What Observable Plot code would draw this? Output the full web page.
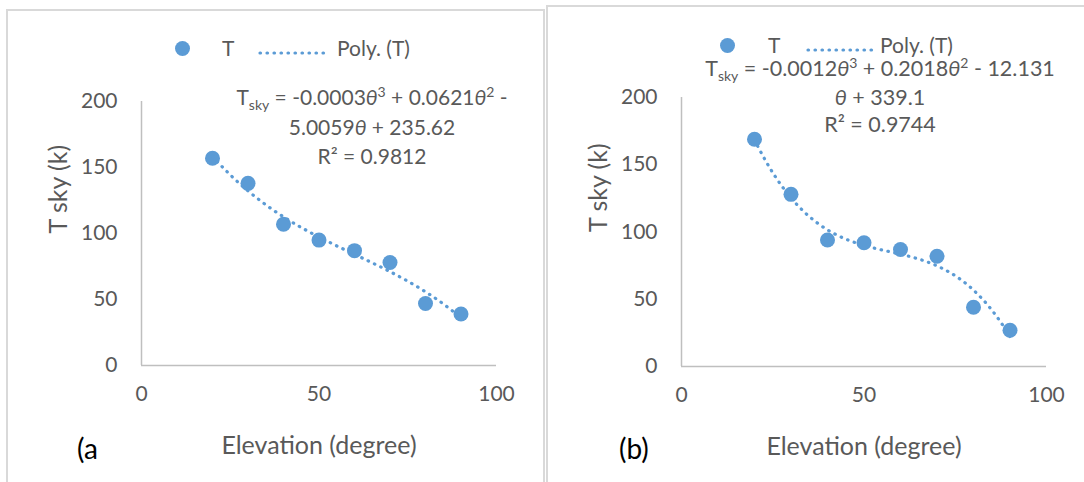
<!DOCTYPE html>
<html><head><meta charset="utf-8">
<script src="https://cdn.jsdelivr.net/npm/d3@7"></script>
<script src="https://cdn.jsdelivr.net/npm/@observablehq/plot@0.6"></script>
<style>
html,body{margin:0;padding:0;background:#fff;}
#root{position:relative;width:1084px;height:482px;overflow:hidden;font-family:Lato,sans-serif;color:#595959;}
.panel{position:absolute;border:2px solid #d9d9d9;box-sizing:border-box;}
.plot{position:absolute;top:0;}
.txt{position:absolute;font-size:21px;line-height:22px;height:22px;white-space:nowrap;}
.c{transform:translateX(-50%);}
.txt sub{font-size:14px;vertical-align:-5px;line-height:0;}
.txt sup{font-size:14px;vertical-align:8px;line-height:0;}
.tag{position:absolute;font-size:28px;line-height:28px;color:#000;}
.ldot{position:absolute;width:15px;height:15px;border-radius:50%;background:#5B9BD5;}
</style></head><body><div id="root"></div>
<script>
// ---- data ----
const elevation = [20, 30, 40, 50, 60, 70, 80, 90];
const tskyA = [157, 138, 107, 95, 87, 78, 47, 39];
const tskyB = [169, 128, 94, 92, 87, 82, 44, 27];
const xTicks = [0, 50, 100];
const yTicks = [0, 50, 100, 150, 200];
const xTitle = "Elevation (degree)";
const yTitle = "T sky (k)";
const seriesName = "T";
const trendName = "Poly. (T)";
const eqA = ["T<sub>sky</sub> = -0.0003<i>θ</i><sup>3</sup> + 0.0621<i>θ</i><sup>2</sup> -", "5.0059<i>θ</i> + 235.62", "R² = 0.9812"];
const eqB = ["T<sub>sky</sub> = -0.0012<i>θ</i><sup>3</sup> + 0.2018<i>θ</i><sup>2</sup> - 12.131", "<i>θ</i> + 339.1", "R² = 0.9744"];
const tagA = "(a";
const tagB = "(b)";
const blue = "#5B9BD5";

// least-squares cubic trendline (as Excel's polynomial trendline)
function cubicFit(xs, ys) {
  const m = d3.mean(xs), s = 35, n = 4;
  const A = Array.from({length: n}, () => Array(n + 1).fill(0));
  xs.forEach((x, i) => {
    const t = (x - m) / s, p = [1, t, t * t, t * t * t];
    for (let r = 0; r < n; r++) {
      for (let c = 0; c < n; c++) A[r][c] += p[r] * p[c];
      A[r][n] += p[r] * ys[i];
    }
  });
  for (let i = 0; i < n; i++) {
    let piv = i;
    for (let r = i + 1; r < n; r++) if (Math.abs(A[r][i]) > Math.abs(A[piv][i])) piv = r;
    [A[i], A[piv]] = [A[piv], A[i]];
    for (let r = 0; r < n; r++) {
      if (r === i) continue;
      const f = A[r][i] / A[i][i];
      for (let c = i; c <= n; c++) A[r][c] -= f * A[i][c];
    }
  }
  const b = A.map((row, i) => row[n] / row[i]);
  return x => { const t = (x - m) / s; return b[0] + b[1] * t + b[2] * t * t + b[3] * t * t * t; };
}

const root = document.getElementById("root");
function add(html, cls, style) {
  const d = document.createElement("div");
  d.className = cls; d.innerHTML = html; Object.assign(d.style, style);
  root.appendChild(d); return d;
}

function panel(values, o) {
  add("", "panel", {left: o.bx + "px", top: o.by + "px", width: o.bw + "px", height: "520px"});
  const pts = elevation.map((x, i) => ({x, y: values[i]}));
  const f = cubicFit(elevation, values);
  const trend = d3.range(elevation[0], elevation[elevation.length - 1] + 0.001, 0.5).map(x => ({x, y: f(x)}));
  const svg = Plot.plot({
    width: o.w, height: 482,
    marginLeft: o.ml, marginRight: o.mr, marginTop: o.mt, marginBottom: o.mb,
    style: {fontFamily: "Lato, sans-serif", fontSize: "21px", color: "#595959", background: "transparent", overflow: "visible"},
    x: {domain: [0, 100]},
    y: {domain: [0, 200]},
    marks: [
      Plot.ruleY([0], {stroke: "#bfbfbf", strokeWidth: 1.5}),
      Plot.ruleX([0], {stroke: "#bfbfbf", strokeWidth: 1.5}),
      Plot.axisX({ticks: xTicks, tickSize: 0, tickPadding: 21, tickFormat: d => String(d), label: null}),
      Plot.axisY({ticks: yTicks, tickSize: 0, tickPadding: 24, tickFormat: d => String(d), label: null}),
      Plot.text([xTitle], {text: d => d, frameAnchor: "bottom", lineAnchor: "middle", dy: 80, fontSize: 25, fill: "#595959"}),
      Plot.text([yTitle], {text: d => d, frameAnchor: "left", lineAnchor: "middle", rotate: -90, dx: -83, fontSize: 25, fill: "#595959"}),
      Plot.dot(pts, {x: "x", y: "y", r: 7.5, fill: blue}),
      Plot.line(trend, {x: "x", y: "y", stroke: blue, strokeWidth: 3.2, strokeDasharray: "0.5,6.5", strokeLinecap: "round"})
    ]
  });
  svg.classList.add("plot");
  svg.style.left = o.x + "px";
  root.appendChild(svg);
  // legend
  add("", "ldot", {left: (o.lg.dot[0] - 7.5) + "px", top: (o.lg.dot[1] - 7.5) + "px"});
  add(seriesName, "txt", {left: o.lg.t + "px", top: (o.lg.dot[1] - 11) + "px"});
  add(`<svg width="${o.lg.l1 - o.lg.l0 + 4}" height="6"><line x1="2" y1="3" x2="${o.lg.l1 - o.lg.l0 + 2}" y2="3" stroke="${blue}" stroke-width="3.2" stroke-dasharray="0.5,6.5" stroke-linecap="round"/></svg>`, "txt", {left: (o.lg.l0 - 2) + "px", top: (o.lg.dot[1] - 3) + "px", height: "6px", lineHeight: "6px"});
  add(trendName, "txt", {left: o.lg.p + "px", top: (o.lg.dot[1] - 11) + "px"});
  // equation
  o.eq.forEach((line, i) => add(line, "txt c", {left: o.eqx + "px", top: (o.eqy[i] - 11) + "px", fontSize: o.eqfs + "px"}));
  add(o.tag, "tag", {left: o.tagx + "px", top: "434px"});
}

panel(tskyA, {
  bx: 6, by: 9, bw: 539, x: 0, w: 545, ml: 141, mr: 49, mt: 101, mb: 117,
  lg: {dot: [182, 48], t: 222, l0: 260, l1: 327, p: 337},
  eq: eqA, eqx: 372, eqy: [97, 127, 156], eqfs: 21, tag: tagA, tagx: 77
});
panel(tskyB, {
  bx: 546, by: 5, bw: 560, x: 545, w: 539, ml: 136, mr: 38, mt: 97, mb: 116,
  lg: {dot: [727, 45], t: 768, l0: 808, l1: 872, p: 880},
  eq: eqB, eqx: 880, eqy: [68, 97, 124], eqfs: 21.5, tag: tagB, tagx: 619
});
</script>
</body></html>
